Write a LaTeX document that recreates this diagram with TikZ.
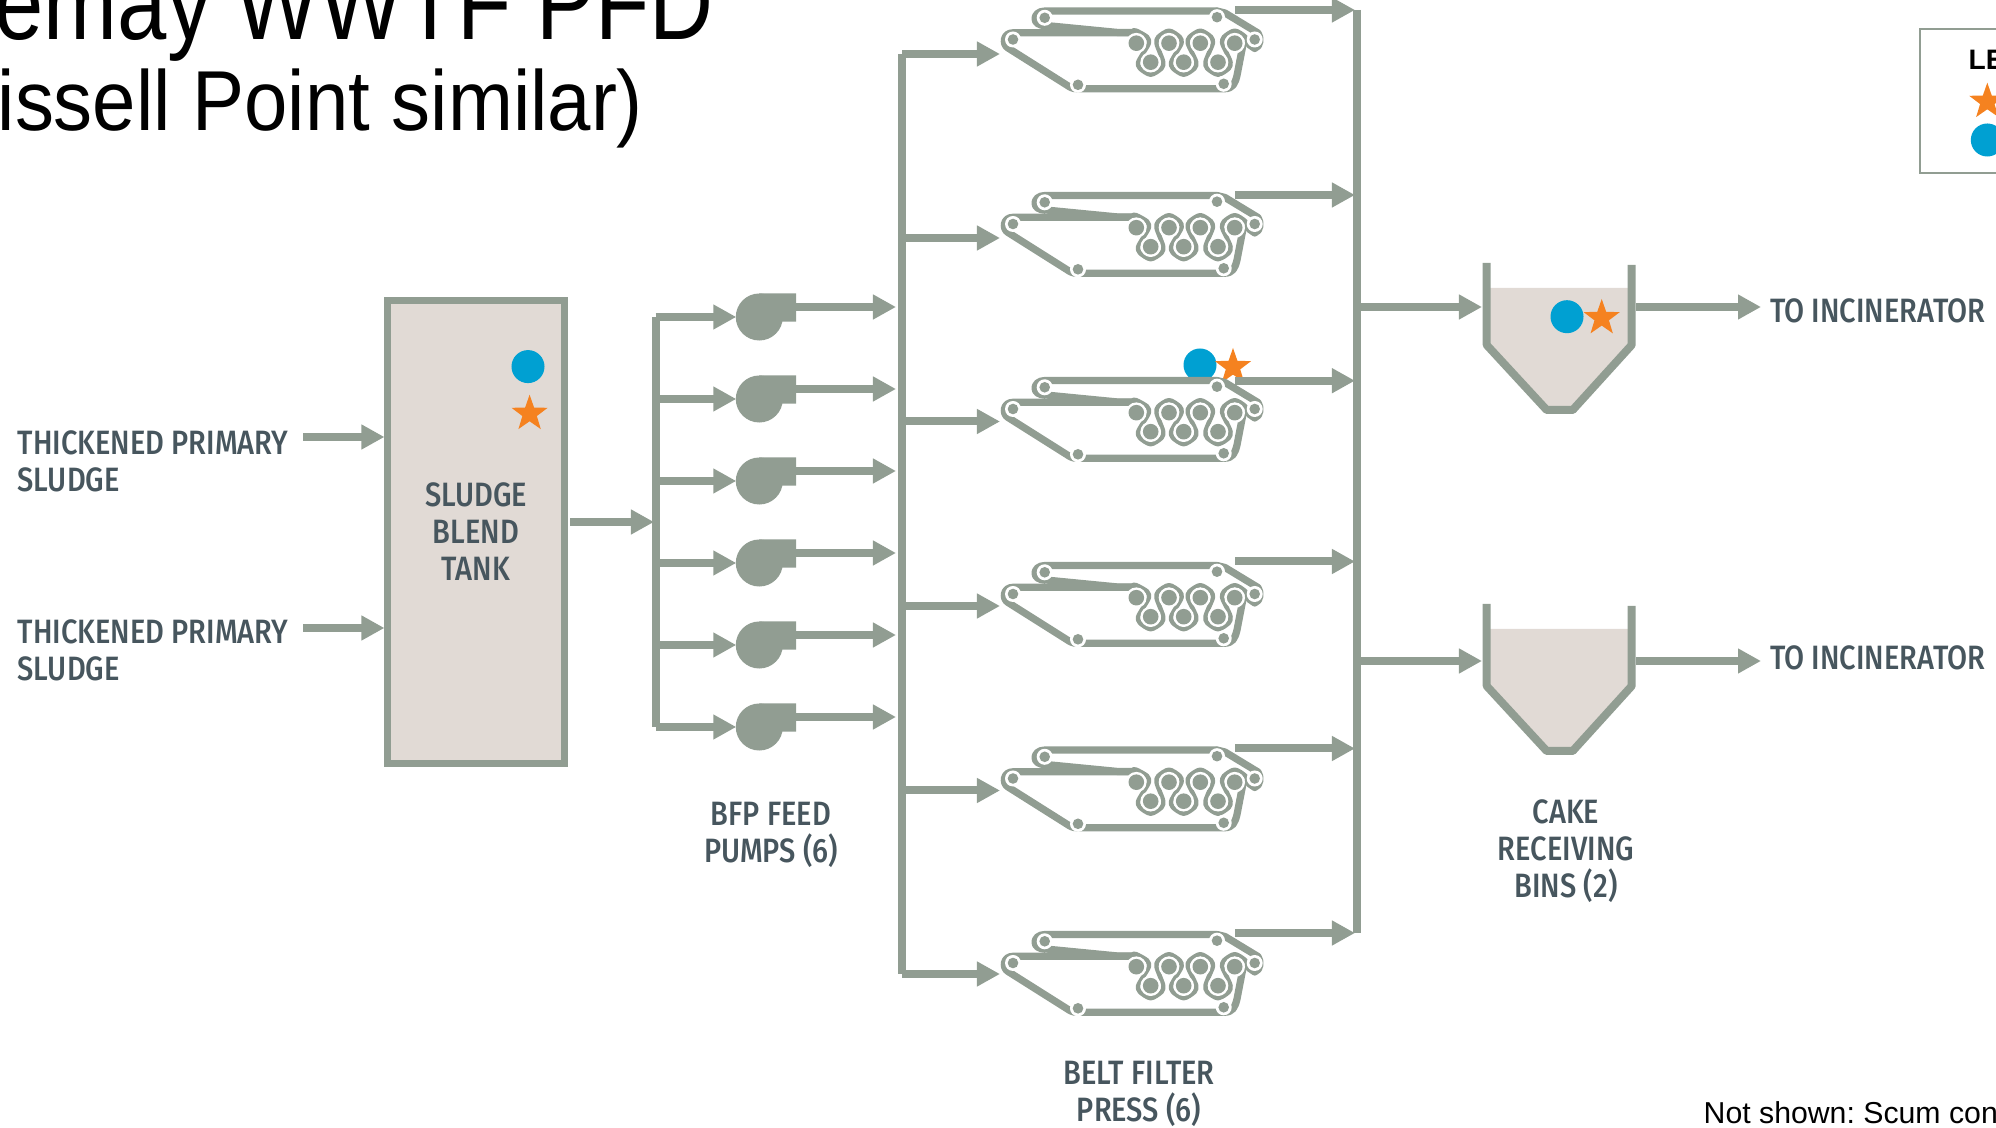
\documentclass[tikz,border=0pt]{standalone}
\usepackage{fontspec}
\setmainfont{Liberation Sans}
\newfontfamily\labelfont[FakeStretch=0.86]{Fira Sans Medium}
\newfontfamily\titlefonta[FakeStretch=0.84]{Liberation Sans}
\newfontfamily\titlefontb[FakeStretch=0.916]{Liberation Sans}
\usetikzlibrary{arrows.meta,positioning,calc,shapes.geometric}
\definecolor{pipegrey}{HTML}{919D92}
\definecolor{tankfill}{HTML}{E1DAD5}
\definecolor{labelgrey}{HTML}{47565E}
\definecolor{staror}{HTML}{F58220}
\definecolor{dotblue}{HTML}{00A0D2}
\tikzset{
  pipe/.style={line width=0.08cm, draw=pipegrey, -{Triangle[length=0.23cm,width=0.235cm]}},
  pipeplain/.style={line width=0.08cm, draw=pipegrey},
  belt/.style={line width=0.072cm, draw=pipegrey, line join=round, line cap=round},
  tag/.style={font=\labelfont\fontsize{9.6}{10.5}\selectfont, text=labelgrey, align=center, inner sep=0pt},
  starmark/.style={star, star points=5, star point ratio=2.5, fill=staror, inner sep=0pt, minimum size=0.38cm},
  dotmark/.style={circle, fill=dotblue, inner sep=0pt, minimum size=0.33cm},
  pics/pumpunit/.style={code={
    \fill[pipegrey] (0,0) circle (0.235cm);
    \fill[pipegrey] (0,-23.7) -- (36.7,-23.7) -- (36.7,4.7) -- (16,4.7) -- (0,0) -- cycle;
    \coordinate (-in) at (-23,0);
    \coordinate (-out) at (36,-10);
  }},
  pics/pressunit/.style={code={
    % belts first, rollers over them
    \draw[belt] (204,-28.5) -- (32,-28.5) .. controls (19,-28.5) and (18,-13) .. (33,-14) -- (105,-7) -- (123,-7);
    \draw[belt] (204,-28.5) -- (212,-26.5) -- (245,-6.5) .. controls (248,-2) and (248,7) .. (241.7,9) -- (236,5);
    \draw[pipegrey, line width=0.01cm] (31.7,-14) -- (31.7,-8);
    \draw[belt] (123,-6.7) -- (0,-6.7) .. controls (-10,-6.7) and (-11,5) .. (-5,8.5) -- (56,47) .. controls (60,49.3) and (62,49.3) .. (65,49.3) -- (211,49.3) .. controls (220,49.3) and (222,44) .. (224,36) -- (230,5);
    \draw[belt, line width=0.045cm] plot[smooth, tension=0.5] coordinates {(120,-8.8) (123.3,-8.8) (134.1,-2.55) (135.8,3.7) (130.5,13.2) (125.2,22.7) (126.9,28.95) (137.7,35.2) (148.5,28.95) (150.2,22.7) (146.9,13.2) (143.5,3.7) (145.2,-2.55) (156,-8.8) (166.8,-2.55) (168.5,3.7) (163.3,13.2) (158.2,22.7) (159.9,28.95) (170.7,35.2) (181.5,28.95) (183.2,22.7) (179,13.2) (174.8,3.7) (176.5,-2.55) (187.3,-8.8) (198.1,-2.55) (199.8,3.7) (196,13.2) (192.5,22.7) (194.2,28.95) (205,35.2) (215.8,28.95) (217.5,22.7) (213.5,13.2) (209.2,3.7) (210.9,-2.55) (221.7,-8.8) (232.5,-2.55) (234.2,3.7)};
    \foreach \rx/\ry in {123.3/3.7, 156/3.7, 187.3/3.7, 221.7/3.7, 137.7/22.7, 170.7/22.7, 205/22.7} {
      \fill[white] (\rx,\ry) circle (0.103cm);
      \fill[pipegrey] (\rx,\ry) circle (0.078cm);
    }
    \foreach \rx/\ry in {0/0, 31.7/-21.7, 204/-22.3, 241.7/0, 65/45.3, 210.7/44.3} {
      \fill[white] (\rx,\ry) circle (0.08cm);
      \fill[pipegrey] (\rx,\ry) circle (0.053cm);
    }
  }},
  pics/binunit/.style={code={
    \fill[tankfill] (0,25) -- (145,25) -- (145,82) -- (86,147) -- (60,147) -- (0,82) -- cycle;
    \draw[pipeplain, line join=round] (0,0) -- (0,82) -- (60,147) -- (86,147) -- (145,82) -- (145,2);
  }}
}
\begin{document}
\begin{tikzpicture}[x=0.01cm, y=-0.01cm, >=Stealth]
\frenchspacing
\useasboundingbox (0,0) rectangle (1996,1128);
% title and note
\node[anchor=base west, inner sep=0pt, font=\titlefonta\fontsize{30}{36}\selectfont] (title1) at (-6,40) {emay WWTF PFD};
\node[anchor=base west, inner sep=0pt, font=\titlefontb\fontsize{24.2}{29}\selectfont] (title2) at (-3,131) {issell Point similar)};
\node[anchor=base west, inner sep=0pt, font=\fontsize{8.6}{10}\selectfont] (note) at (1703,1124) {Not shown: Scum con};
% legend
\draw[pipegrey, line width=0.017cm] (1920,29) rectangle (2020,172.7);
\node[anchor=base west, inner sep=0pt, font=\bfseries\fontsize{8}{9}\selectfont] (legendtitle) at (1968,70) {LE};
\node[starmark] (legendstar) at (1987.3,101.7) {};
\node[dotmark] (legenddot) at (1987.3,140) {};
% blend tank
\node[draw=pipegrey, fill=tankfill, line width=0.075cm, outer sep=0pt, minimum width=1.77cm, minimum height=4.63cm, tag] (tank) at (476,532) {SLUDGE\\BLEND\\TANK};
\node[dotmark] (tankdot) at (528,366.6) {};
\node[starmark] (tankstar) at (529.6,413.7) {};
\node[tag, anchor=west, align=left] (sludge1) at (17,461) {THICKENED PRIMARY\\SLUDGE};
\node[tag, anchor=west, align=left] (sludge2) at (17,650.5) {THICKENED PRIMARY\\SLUDGE};
\coordinate (feed1) at (303,437);
\coordinate (feed2) at (303,628);
\draw[pipe] (feed1) -- ([xshift=-0.03cm]feed1 -| tank.west);
\draw[pipe] (feed2) -- ([xshift=-0.03cm]feed2 -| tank.west);
% feed pumps
\coordinate (tankout) at (570,522);
\coordinate (pumphead) at (654,522);
\draw[pipe] (tankout) -- (pumphead);
\foreach \i/\py in {1/317,2/399,3/481,4/563,5/645,6/727} {
  \pic (pump\i) at (759.3,\py) {pumpunit};
  \coordinate (phead\i) at (655.7,\py);
  \coordinate (ptap\i) at (896,\py-10);
  \draw[pipe] (phead\i) -- (pump\i-in);
  \draw[pipe] (pump\i-out) -- (ptap\i);
}
\draw[pipeplain, line cap=square] (phead1) -- (phead6);
\node[tag] (pumplabel) at (771,835) {BFP FEED\\PUMPS (6)};
% press markers sit behind the third press
\node[dotmark] (pressdot) at (1200,365) {};
\node[starmark] (pressstar) at (1233,367) {};
% belt filter presses
\foreach \i/\ly/\iy/\oy in {1/39.5/54/10,2/224/238/195,3/409/421.5/380.7,4/594/606/561.5,5/778.5/790.5/748.5,6/963/974/933} {
  \pic (press\i) at (1013,\ly) {pressunit};
  \coordinate (ihead\i) at (902,\iy);
  \coordinate (pin\i) at (1000,\iy);
  \coordinate (oout\i) at (1235,\oy);
  \coordinate (ohead\i) at (1355,\oy);
  \coordinate (ocol\i) at (1356.7,\oy);
  \draw[pipe] (ihead\i) -- (pin\i);
  \draw[pipe] (oout\i) -- (ohead\i);
}
\draw[pipeplain, line cap=square] (ihead1) -- (ihead6);
\draw[pipeplain] (ocol1) -- (ocol6);
\node[tag] (presslabel) at (1139,1094) {BELT FILTER\\PRESS (6)};
% cake bins
\pic (bin1) at (1486.7,263) {binunit};
\pic (bin2) at (1486.7,604) {binunit};
\node[dotmark] (bindot) at (1567,316.7) {};
\node[starmark] (binstar) at (1601.7,318) {};
\foreach \i/\by in {1/307,2/661} {
  \coordinate (bfrom\i) at (1361,\by);
  \coordinate (binto\i) at (1482,\by);
  \coordinate (bleave\i) at (1636,\by);
  \coordinate (bout\i) at (1761,\by);
  \draw[pipe] (bfrom\i) -- (binto\i);
  \draw[pipe] (bleave\i) -- (bout\i);
}
\node[tag, anchor=west] (incin1) at (1769.5,310.6) {TO INCINERATOR};
\node[tag, anchor=west] (incin2) at (1769.5,658) {TO INCINERATOR};
\node[tag] (binlabel) at (1566,851) {CAKE\\RECEIVING\\BINS (2)};
\end{tikzpicture}
\end{document}
